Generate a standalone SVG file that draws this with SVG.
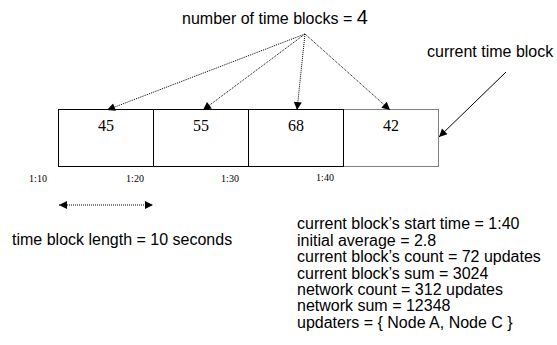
<svg xmlns="http://www.w3.org/2000/svg" width="557" height="345" viewBox="0 0 557 345">
<style>
.sans{font-family:"Liberation Sans",Arial,sans-serif;fill:#000}
.serif{font-family:"Liberation Serif","Times New Roman",serif;fill:#000}
.box{fill:#fff;stroke:#000;stroke-width:1}
.cur{fill:#fff;stroke:#000;stroke-width:1;stroke-dasharray:1,1}
.dot{fill:none;stroke:#000;stroke-width:1;stroke-dasharray:1,1}
.sol{fill:none;stroke:#000;stroke-width:1}
</style>
<defs>
<marker id="ah" viewBox="0 0 10 10" refX="10" refY="5" markerWidth="10" markerHeight="8" markerUnits="userSpaceOnUse" orient="auto">
<path d="M0,0 L10,5 L0,10 Z" fill="#000"/>
</marker>
<marker id="ahs" viewBox="0 0 10 10" refX="10" refY="5" markerWidth="10" markerHeight="8" markerUnits="userSpaceOnUse" orient="auto-start-reverse">
<path d="M0,0 L10,5 L0,10 Z" fill="#000"/>
</marker>
</defs>
<text class="sans" x="182" y="24" font-size="16">number of time blocks = <tspan font-size="20">4</tspan></text>
<text class="sans" x="427" y="57" font-size="16">current time block</text>
<g id="block1"><rect class="box" x="58.5" y="109.5" width="95" height="57"/><text class="serif" x="106" y="131" font-size="16" text-anchor="middle">45</text></g>
<g id="block2"><rect class="box" x="153.5" y="109.5" width="95" height="57"/><text class="serif" x="201" y="131" font-size="16" text-anchor="middle">55</text></g>
<g id="block3"><rect class="box" x="248.5" y="109.5" width="95" height="57"/><text class="serif" x="296" y="131" font-size="16" text-anchor="middle">68</text></g>
<g id="block4"><path class="dot" d="M343.5,109.5 H438.5 V166.5 H343.5"/><text class="serif" x="391" y="131" font-size="16" text-anchor="middle">42</text></g>
<g id="connectors">
<line class="dot" x1="305" y1="34" x2="107" y2="110" marker-end="url(#ah)"/>
<line class="dot" x1="305" y1="34" x2="203" y2="110" marker-end="url(#ah)"/>
<line class="dot" x1="305" y1="34" x2="297" y2="110" marker-end="url(#ah)"/>
<line class="dot" x1="305" y1="34" x2="390" y2="110" marker-end="url(#ah)"/>
<line class="sol" x1="506" y1="72" x2="439" y2="137" marker-end="url(#ah)"/>
<line class="dot" x1="59" y1="205" x2="153" y2="205" marker-start="url(#ahs)" marker-end="url(#ah)"/>
</g>
<g id="times" class="serif" font-size="10" text-anchor="middle">
<text x="38" y="182">1:10</text>
<text x="135" y="182">1:20</text>
<text x="230" y="182">1:30</text>
<text x="325" y="181">1:40</text>
</g>
<text class="sans" x="12" y="245" font-size="16">time block length = 10 seconds</text>
<g id="stats" class="sans" font-size="16">
<text x="297" y="229">current block’s start time = 1:40</text>
<text x="297" y="245.5">initial average = 2.8</text>
<text x="297" y="262">current block’s count = 72 updates</text>
<text x="297" y="278.5">current block’s sum = 3024</text>
<text x="297" y="295">network count = 312 updates</text>
<text x="297" y="311">network sum = 12348</text>
<text x="297" y="327.5">updaters = { Node A, Node C }</text>
</g>
</svg>
